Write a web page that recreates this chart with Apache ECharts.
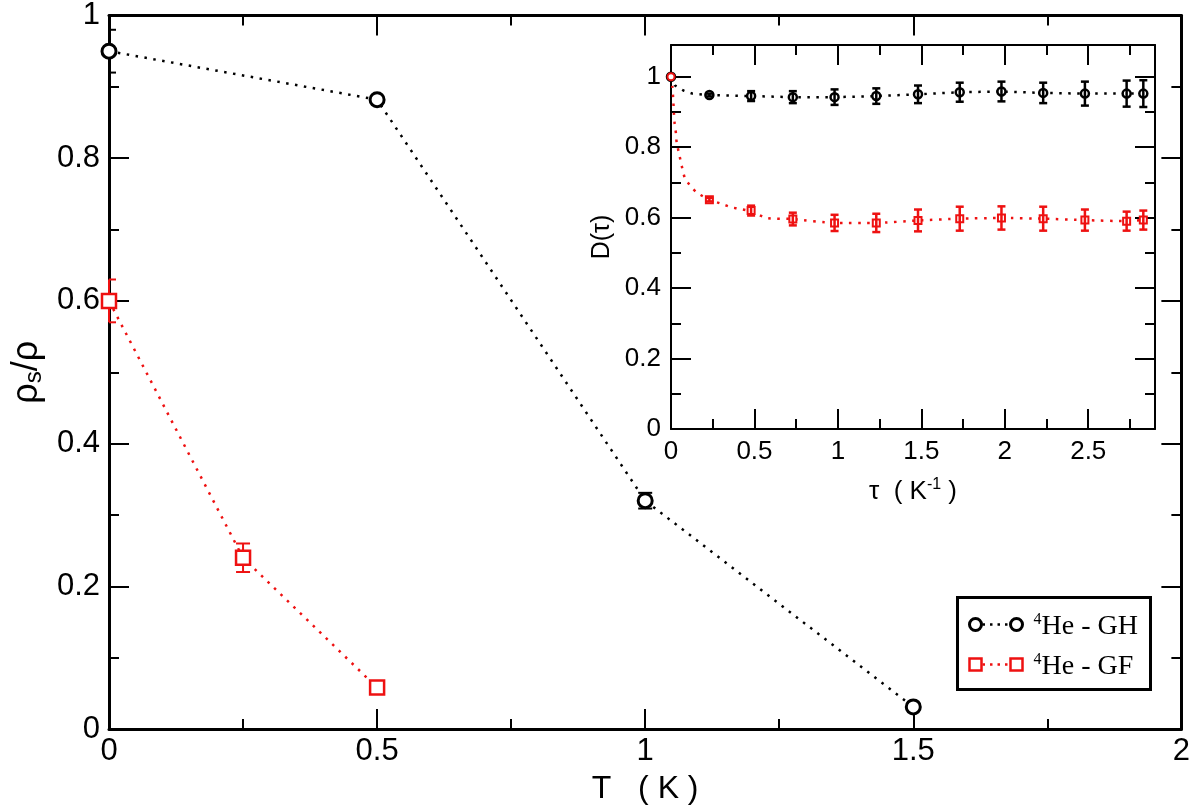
<!DOCTYPE html>
<html>
<head>
<meta charset="utf-8">
<script src="https://cdn.jsdelivr.net/npm/echarts@6/dist/echarts.min.js"></script>
<style>
  html, body { margin: 0; padding: 0; background: #fff; }
  #chart { width: 1193px; height: 810px; }
</style>
</head>
<body>
<div id="chart"></div>
<script>
// main panel: superfluid fraction vs temperature
const tGH = [0, 0.5, 1, 1.5];
const rhoGH = [0.95, 0.882, 0.32, 0.031];
const rhoErrGH = [0.03, 0.004, 0.011, 0.004];
const tGF = [0, 0.25, 0.5];
const rhoGF = [0.6, 0.24, 0.058];
const rhoErrGF = [0.03, 0.02, 0.004];

// inset: D(tau)
const tau = [0, 0.23, 0.48, 0.73, 0.98, 1.23, 1.48, 1.73, 1.98, 2.23, 2.48, 2.73, 2.83];
const dGH = [1, 0.948, 0.945, 0.942, 0.942, 0.945, 0.95, 0.956, 0.958, 0.954, 0.952, 0.952, 0.952];
const dErrGH = [0, 0.004, 0.014, 0.017, 0.022, 0.022, 0.025, 0.027, 0.028, 0.029, 0.034, 0.037, 0.038];
const dGF = [1, 0.651, 0.62, 0.596, 0.585, 0.585, 0.592, 0.597, 0.599, 0.597, 0.593, 0.59, 0.593];
const dErrGF = [0, 0.005, 0.014, 0.018, 0.023, 0.026, 0.031, 0.034, 0.033, 0.034, 0.03, 0.027, 0.027];

// dotted curves in the inset
const curveTauGH = [0, 0.024, 0.074, 0.128, 0.23, 0.48, 0.73, 0.98, 1.23, 1.48, 1.73, 1.98, 2.23, 2.48, 2.73, 2.83];
const curveDGH = [1, 0.975, 0.961, 0.952, 0.948, 0.945, 0.942, 0.942, 0.945, 0.95, 0.956, 0.958, 0.954, 0.952, 0.952, 0.952];
const curveTauGF = [0, 0.008, 0.014, 0.018, 0.022, 0.03, 0.034, 0.046, 0.058, 0.07, 0.084, 0.118, 0.157, 0.23, 0.303, 0.363, 0.413, 0.48, 0.573, 0.73, 0.98, 1.23, 1.48, 1.73, 1.98, 2.23, 2.48, 2.73, 2.83];
const curveDGF = [1, 0.973, 0.93, 0.893, 0.866, 0.838, 0.812, 0.787, 0.76, 0.735, 0.711, 0.689, 0.67, 0.651, 0.639, 0.629, 0.625, 0.618, 0.599, 0.596, 0.585, 0.585, 0.592, 0.597, 0.599, 0.597, 0.593, 0.59, 0.593];

// inset tick positions
const insetMajorX = [0, 0.5, 1, 1.5, 2, 2.5];
const insetMinorX = [0.25, 0.75, 1.25, 1.75, 2.25, 2.75];
const insetMajorY = [0, 0.2, 0.4, 0.6, 0.8, 1];
const insetMinorY = [0.1, 0.3, 0.5, 0.7, 0.9];

const RED = '#ee1111';
const SANS = 'Liberation Sans, Arial, sans-serif';
const SERIF = 'Liberation Serif, Times New Roman, serif';
const DOTS = [2.5, 6.5];

const zip = (xs, ys) => xs.map((x, i) => [x, ys[i]]);
const withErr = (xs, ys, es) => xs.map((x, i) => [x, ys[i], es[i]]);

function errorBars(xi, yi, data, color, cap, lw, z) {
  return {
    type: 'custom', xAxisIndex: xi, yAxisIndex: yi, z: z,
    data: data,
    renderItem: function (params, api) {
      const x = api.value(0), y = api.value(1), e = api.value(2);
      if (!e) return;
      const top = api.coord([x, y + e]);
      const bot = api.coord([x, y - e]);
      const left = Math.max(top[0] - cap, params.coordSys.x);
      const right = top[0] + cap;
      const st = { stroke: color, lineWidth: lw };
      return {
        type: 'group',
        children: [
          { type: 'line', shape: { x1: top[0], y1: top[1], x2: bot[0], y2: bot[1] }, style: st },
          { type: 'line', shape: { x1: left, y1: top[1], x2: right, y2: top[1] }, style: st },
          { type: 'line', shape: { x1: left, y1: bot[1], x2: right, y2: bot[1] }, style: st }
        ]
      };
    }
  };
}

function mainX(pos, withLabels) {
  return {
    gridIndex: 0, type: 'value', position: pos, min: 0, max: 2, interval: 0.5,
    axisLine: { onZero: false, lineStyle: { color: '#000', width: 3 } },
    axisTick: { inside: true, length: 20, lineStyle: { color: '#000', width: 2 } },
    minorTick: { show: true, splitNumber: 2, length: 10, lineStyle: { color: '#000', width: 2 } },
    axisLabel: { show: withLabels, fontSize: 31, color: '#000', fontFamily: SANS, margin: 7 },
    splitLine: { show: false },
    name: withLabels ? 'T   ( K )' : '',
    nameLocation: 'middle', nameGap: 44,
    nameTextStyle: { fontSize: 32, color: '#000', fontFamily: SANS }
  };
}
function mainY(pos, withLabels) {
  return {
    gridIndex: 0, type: 'value', position: pos, min: 0, max: 1, interval: 0.2,
    axisLine: { onZero: false, lineStyle: { color: '#000', width: 3 } },
    axisTick: { inside: true, length: 20, lineStyle: { color: '#000', width: 2 } },
    minorTick: { show: true, splitNumber: 2, length: 10, lineStyle: { color: '#000', width: 2 } },
    axisLabel: { show: withLabels, fontSize: 31, color: '#000', fontFamily: SANS, margin: 9 },
    splitLine: { show: false },
    name: withLabels ? '{a|ρ}{s|s}{a|/ρ}' : '',
    nameLocation: 'middle', nameGap: 60,
    nameTextStyle: {
      color: '#000', fontFamily: SANS,
      rich: {
        a: { fontSize: 36, color: '#000', fontFamily: SANS, lineHeight: 38 },
        s: { fontSize: 24, color: '#000', fontFamily: SANS, lineHeight: 10, verticalAlign: 'bottom' }
      }
    }
  };
}
function insetX(pos, ticks, len, withLabels) {
  return {
    gridIndex: 1, type: 'value', position: pos, min: 0, max: 2.9,
    axisLine: { onZero: false, show: len === 20, lineStyle: { color: '#000', width: 2 } },
    axisTick: { inside: true, length: len, customValues: ticks, lineStyle: { color: '#000', width: 2 } },
    axisLabel: { show: withLabels, customValues: insetMajorX, fontSize: 26, color: '#000', fontFamily: SANS, margin: 10 },
    splitLine: { show: false },
    name: withLabels ? '{a|τ  ( K}{p|-1}{a| )}' : '',
    nameLocation: 'middle', nameGap: 48,
    nameTextStyle: {
      color: '#000',
      rich: {
        a: { fontSize: 26, color: '#000', fontFamily: SANS, lineHeight: 30 },
        p: { fontSize: 16, color: '#000', fontFamily: SANS, lineHeight: 12, verticalAlign: 'top' }
      }
    }
  };
}
function insetY(pos, ticks, len, withLabels) {
  return {
    gridIndex: 1, type: 'value', position: pos, min: 0, max: 1.09,
    axisLine: { onZero: false, show: len === 20, lineStyle: { color: '#000', width: 2 } },
    axisTick: { inside: true, length: len, customValues: ticks, lineStyle: { color: '#000', width: 2 } },
    axisLabel: { show: withLabels, customValues: insetMajorY, fontSize: 26, color: '#000', fontFamily: SANS, margin: 10 },
    splitLine: { show: false },
    name: withLabels ? 'D(τ)' : '',
    nameLocation: 'middle', nameGap: 56,
    nameTextStyle: { fontSize: 25, color: '#000', fontFamily: SANS }
  };
}

const gfInsetData = zip(tau, dGF).map((p, i) => i === 0 ? { value: p, symbol: 'circle' } : p);

const chart = echarts.init(document.getElementById('chart'), null, { renderer: 'canvas' });
chart.setOption({
  backgroundColor: '#fff',
  animation: false,
  grid: [
    { left: 109, top: 14, width: 1074, height: 715 },
    { left: 671, top: 45, width: 484, height: 384 }
  ],
  xAxis: [
    mainX('bottom', true), mainX('top', false),
    insetX('bottom', insetMajorX, 20, true), insetX('bottom', insetMinorX, 10, false),
    insetX('top', insetMajorX, 20, false), insetX('top', insetMinorX, 10, false)
  ],
  yAxis: [
    mainY('left', true), mainY('right', false),
    insetY('left', insetMajorY, 20, true), insetY('left', insetMinorY, 10, false),
    insetY('right', insetMajorY, 20, false), insetY('right', insetMinorY, 10, false)
  ],
  series: [
    errorBars(0, 0, withErr(tGH, rhoGH, rhoErrGH), '#000', 7, 2, 2),
    errorBars(0, 0, withErr(tGF, rhoGF, rhoErrGF), RED, 7, 2, 2),
    {
      name: '4He - GH', type: 'line', xAxisIndex: 0, yAxisIndex: 0, z: 3,
      data: zip(tGH, rhoGH),
      symbol: 'circle', symbolSize: 14, showAllSymbol: true,
      itemStyle: { color: '#fff', borderColor: '#000', borderWidth: 3 },
      lineStyle: { color: '#000', width: 2.5, type: DOTS }
    },
    {
      name: '4He - GF', type: 'line', xAxisIndex: 0, yAxisIndex: 0, z: 3,
      data: zip(tGF, rhoGF),
      symbol: 'rect', symbolSize: 14, showAllSymbol: true,
      itemStyle: { color: '#fff', borderColor: RED, borderWidth: 2.5 },
      lineStyle: { color: RED, width: 2.5, type: DOTS }
    },
    {
      type: 'line', xAxisIndex: 2, yAxisIndex: 2, z: 3,
      data: zip(curveTauGH, curveDGH), showSymbol: false,
      lineStyle: { color: '#000', width: 2.5, type: DOTS }
    },
    {
      type: 'line', xAxisIndex: 2, yAxisIndex: 2, z: 3,
      data: zip(curveTauGF, curveDGF), showSymbol: false, smooth: 0.2,
      lineStyle: { color: RED, width: 2.5, type: DOTS }
    },
    {
      type: 'scatter', xAxisIndex: 2, yAxisIndex: 2, z: 4,
      data: zip(tau, dGH), symbol: 'circle', symbolSize: 8,
      itemStyle: { color: '#fff', borderColor: '#000', borderWidth: 2.5, opacity: 1 }
    },
    {
      type: 'scatter', xAxisIndex: 2, yAxisIndex: 2, z: 4,
      data: gfInsetData, symbol: 'rect', symbolSize: 7,
      itemStyle: { color: '#fff', borderColor: RED, borderWidth: 2, opacity: 1 }
    },
    errorBars(2, 2, withErr(tau, dGH, dErrGH), '#000', 4, 2.5, 5),
    errorBars(2, 2, withErr(tau, dGF, dErrGF), RED, 4, 2.5, 5)
  ],
  graphic: [
    {
      type: 'group', left: 956, top: 596, z: 10,
      children: [
        { type: 'rect', shape: { x: 0, y: 0, width: 193, height: 92 }, style: { fill: '#fff', stroke: '#000', lineWidth: 3 } },
        { type: 'line', shape: { x1: 25, y1: 27, x2: 52, y2: 27 }, style: { stroke: '#000', lineWidth: 2.5, lineDash: [2.5, 5] } },
        { type: 'circle', shape: { cx: 18, cy: 27, r: 6 }, style: { fill: '#fff', stroke: '#000', lineWidth: 3 } },
        { type: 'circle', shape: { cx: 59, cy: 27, r: 6 }, style: { fill: '#fff', stroke: '#000', lineWidth: 3 } },
        {
          type: 'text', x: 76, y: 29,
          style: {
            text: '{s|4}{t|He - GH}', verticalAlign: 'middle',
            rich: {
              s: { fontSize: 16, fontFamily: SERIF, fill: '#000', lineHeight: 14, verticalAlign: 'top' },
              t: { fontSize: 28, fontFamily: SERIF, fill: '#000', lineHeight: 30 }
            }
          }
        },
        { type: 'line', shape: { x1: 25, y1: 67, x2: 52, y2: 67 }, style: { stroke: RED, lineWidth: 2.5, lineDash: [2.5, 5] } },
        { type: 'rect', shape: { x: 12, y: 61, width: 12, height: 12 }, style: { fill: '#fff', stroke: RED, lineWidth: 2.5 } },
        { type: 'rect', shape: { x: 53, y: 61, width: 12, height: 12 }, style: { fill: '#fff', stroke: RED, lineWidth: 2.5 } },
        {
          type: 'text', x: 76, y: 69,
          style: {
            text: '{s|4}{t|He - GF}', verticalAlign: 'middle',
            rich: {
              s: { fontSize: 16, fontFamily: SERIF, fill: '#000', lineHeight: 14, verticalAlign: 'top' },
              t: { fontSize: 28, fontFamily: SERIF, fill: '#000', lineHeight: 30 }
            }
          }
        }
      ]
    }
  ]
});
</script>
</body>
</html>
